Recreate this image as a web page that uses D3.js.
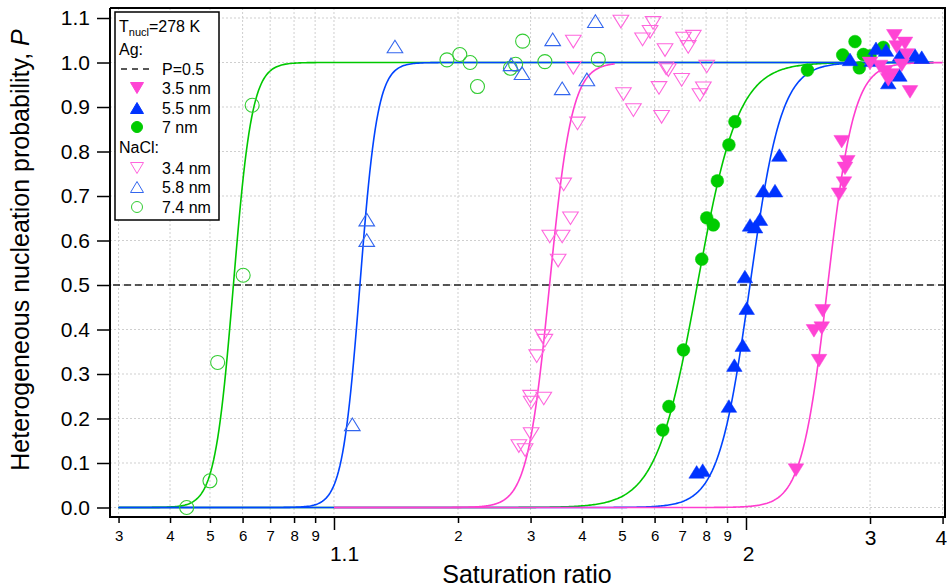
<!DOCTYPE html>
<html><head><meta charset="utf-8">
<script src="https://cdn.jsdelivr.net/npm/d3@7"></script>
<style>
body{margin:0;background:#fff}
svg{display:block}
text{font-family:"Liberation Sans",Arial,Helvetica,sans-serif;fill:#000}
</style>
</head><body>
<svg id="chart" width="947" height="587"></svg>
<script>
// ---------------- DATA ----------------
// NaCl seeds (open markers)
const nacl74S = [1.0439,1.0500,1.0522,1.0602,1.0633,1.188,1.202,1.214,1.223,1.268,1.276,1.287,1.325,1.438];
const nacl74P = [0.000,0.060,0.326,0.522,0.904,1.006,1.018,1.000,0.946,0.987,0.996,1.048,1.002,1.007];

const nacl58S = [1.1108,1.1201,1.1201,1.1406,1.269,1.286,1.3395,1.358,1.411,1.431];
const nacl58P = [0.187,0.647,0.601,1.036,0.996,0.976,1.052,0.942,0.962,1.093];

const nacl34S = [1.281,1.291,1.301,1.300,1.301,1.323,1.3105,1.321,1.325,1.350,1.334,1.358,1.375,1.361,1.390,1.381,1.381,1.497,1.504,1.533,1.561,1.585,1.595,1.615,1.624,1.636,1.640,1.648,1.698,1.705,1.724,1.745,1.773,1.788,1.803];
const nacl34P = [0.138,0.129,0.165,0.249,0.236,0.245,0.340,0.385,0.375,0.555,0.609,0.609,0.650,0.726,0.863,0.988,1.047,1.092,0.929,0.893,1.052,1.069,1.089,0.943,0.878,1.028,0.987,0.983,0.961,1.054,1.035,1.058,0.927,0.942,0.991];

// Ag seeds (filled markers)
const ag7S = [1.628,1.650,1.705,1.781,1.803,1.833,1.852,1.909,1.940,2.410,2.717,2.839,2.927,2.884,3.154,3.000];
const ag7P = [0.174,0.227,0.354,0.558,0.651,0.635,0.734,0.815,0.867,0.983,1.017,1.047,1.018,0.988,1.034,1.015];

const ag55S = [1.759,1.785,1.909,1.937,1.982,2.004,1.994,2.023,2.052,2.081,2.1015,2.176,2.205,2.788,3.019,3.068,3.187,3.365,3.572,3.670,3.215,3.356];
const ag55P = [0.080,0.084,0.228,0.320,0.365,0.448,0.519,0.635,0.631,0.648,0.712,0.712,0.792,1.007,1.005,1.032,1.028,1.017,1.017,1.012,0.955,0.972];

const ag35S = [2.322,2.504,2.462,2.527,2.535,2.682,2.729,2.739,2.762,2.707,3.501,3.291,3.432,3.321,3.000,3.115,3.175,3.258,3.215,3.388,3.455];
const ag35P = [0.084,0.330,0.397,0.403,0.442,0.704,0.729,0.762,0.777,0.822,0.934,1.060,1.043,1.035,0.998,0.991,0.979,0.972,0.961,0.994,1.017];

// Fitted sigmoid curves (logistic in log10(S-1)): order NaCl7.4, Ag7, NaCl5.8, Ag5.5, NaCl3.4, Ag3.5
const curveNames  = ["NaCl 7.4","Ag 7","NaCl 5.8","Ag 5.5","NaCl 3.4","Ag 3.5"];
const curveS50    = [1.0570, 1.7617, 1.1156, 2.0226, 1.3336, 2.579];
const curveWidth  = [0.0226, 0.0498, 0.0214, 0.0381, 0.0272, 0.0318];
const curveSmin   = [1.03, 1.03, 1.03, 1.03, 1.10, 1.10];
const curveSmax   = [3.85, 3.85, 3.85, 3.85, 1.48, 4.00];

// Axis ticks (saturation ratio values)
const yTicks = [0,0.1,0.2,0.3,0.4,0.5,0.6,0.7,0.8,0.9,1.0,1.1];
const xMinorS = [1.03,1.04,1.05,1.06,1.07,1.08,1.09,1.2,1.3,1.4,1.5,1.6,1.7,1.8,1.9];
const xMinorLabels = ["3","4","5","6","7","8","9","2","3","4","5","6","7","8","9"];
const xMajorS = [1.1, 2];
const xMajorLabels = ["1.1","2"];
const xMidS = [3, 4];
const xMidLabels = ["3","4"];

// ---------------- STYLE ----------------
const cGreenLine = "#00c800", cBlueLine = "#0044ff", cPinkLine = "#ff3dcf";
const cGreenFill = "#00cc00", cBlueFill = "#0033ff", cPinkFill = "#ff44d4";
const cGreenOpen = "#33cc33", cBlueOpen = "#3366ee", cPinkOpen = "#ff66dd";
const curveColors = [cGreenLine, cGreenLine, cBlueLine, cBlueLine, cPinkLine, cPinkLine];

const L = 110, R = 945, T = 8, B = 517;
const svg = d3.select("#chart");

const x = d3.scaleLog().domain([0.0286, 3.041]).range([L, R]);
const xs = s => x(s - 1);
const y = d3.scaleLinear().domain([-0.02135, 1.1225]).range([B, T]);

// gridlines
const grid = svg.append("g");
const allX = xMinorS.concat(xMajorS, xMidS);
grid.selectAll("line.vx").data(allX).join("line")
  .attr("x1", d => xs(d)).attr("x2", d => xs(d)).attr("y1", T).attr("y2", B)
  .attr("stroke", "#cfcfcf").attr("stroke-width", 1).attr("stroke-dasharray", "2,2");
grid.selectAll("line.hy").data(yTicks).join("line")
  .attr("x1", L).attr("x2", R).attr("y1", d => y(d)).attr("y2", d => y(d))
  .attr("stroke", "#cfcfcf").attr("stroke-width", 1).attr("stroke-dasharray", "2,2");

// P = 0.5 line
svg.append("line").attr("x1", L + 3).attr("x2", R).attr("y1", y(0.5)).attr("y2", y(0.5))
  .attr("stroke", "#222").attr("stroke-width", 1.6).attr("stroke-dasharray", "7,4");

// curves
const line = d3.line().x(d => xs(d[0])).y(d => y(d[1]));
curveS50.forEach((s50, i) => {
  const u0 = Math.log10(s50 - 1), w = curveWidth[i];
  const a = Math.log10(curveSmin[i] - 1), b = Math.log10(curveSmax[i] - 1);
  const pts = d3.range(0, 601).map(k => {
    const u = a + (b - a) * k / 600;
    return [1 + Math.pow(10, u), 1 / (1 + Math.exp(-(u - u0) / w))];
  });
  svg.append("path").attr("d", line(pts)).attr("fill", "none")
    .attr("stroke", curveColors[i]).attr("stroke-width", 1.6);
});

// markers
const TW = 7.8, TH = 12.6;
function triUp(cx, cy){ return `M${cx},${cy-TH/2}L${cx+TW},${cy+TH/2}L${cx-TW},${cy+TH/2}Z`; }
function triDown(cx, cy){ return `M${cx-TW},${cy-TH/2}L${cx+TW},${cy-TH/2}L${cx},${cy+TH/2}Z`; }
function drawMarker(g, type, cx, cy, filled, color){
  if (type === "circle") {
    g.append("circle").attr("cx", cx).attr("cy", cy).attr("r", filled ? 6.4 : 7)
      .attr("fill", filled ? color : "none").attr("stroke", color).attr("stroke-width", filled ? 0.5 : 1.1);
  } else {
    g.append("path").attr("d", type === "up" ? triUp(cx, cy) : triDown(cx, cy))
      .attr("fill", filled ? color : "none").attr("stroke", color).attr("stroke-width", filled ? 0.5 : 1.1);
  }
}
const series = [
  {S: nacl74S, P: nacl74P, type: "circle", filled: false, color: cGreenOpen},
  {S: nacl58S, P: nacl58P, type: "up", filled: false, color: cBlueOpen},
  {S: nacl34S, P: nacl34P, type: "down", filled: false, color: cPinkOpen},
  {S: ag7S, P: ag7P, type: "circle", filled: true, color: cGreenFill},
  {S: ag55S, P: ag55P, type: "up", filled: true, color: cBlueFill},
  {S: ag35S, P: ag35P, type: "down", filled: true, color: cPinkFill}
];
const mg = svg.append("g");
series.forEach(sr => sr.S.forEach((s, i) => drawMarker(mg, sr.type, xs(s), y(sr.P[i]), sr.filled, sr.color)));

// frame
svg.append("line").attr("x1", L).attr("x2", R + 1).attr("y1", T).attr("y2", T).attr("stroke", "#000").attr("stroke-width", 2);
svg.append("line").attr("x1", R).attr("x2", R).attr("y1", T).attr("y2", B).attr("stroke", "#000").attr("stroke-width", 2);

// y axis
const yAxis = svg.append("g").attr("transform", `translate(${L},0)`)
  .call(d3.axisLeft(y).tickValues(yTicks).tickFormat(d3.format(".1f")).tickSize(13).tickPadding(7));
yAxis.select(".domain").attr("stroke", "#000").attr("stroke-width", 2).attr("d", `M0,${T}V${B}`);
yAxis.selectAll(".tick line").attr("stroke", "#000").attr("stroke-width", 1.5);
yAxis.selectAll(".tick text").attr("font-size", 21).attr("font-family", "Liberation Sans, Arial, sans-serif");

// x axis (minor labels)
const xa1 = svg.append("g").attr("transform", `translate(0,${B})`)
  .call(d3.axisBottom(x).tickValues(xMinorS.map(s => s - 1)).tickFormat((d, i) => xMinorLabels[i]).tickSize(6).tickPadding(7));
xa1.select(".domain").attr("stroke", "#000").attr("stroke-width", 2).attr("d", `M${L-1},0H${R+1}`);
xa1.selectAll(".tick line").attr("stroke", "#000").attr("stroke-width", 1.5);
xa1.selectAll(".tick text").attr("font-size", 15).attr("font-family", "Liberation Sans, Arial, sans-serif");

// x axis (3, 4 : large labels, short ticks)
const xa2 = svg.append("g").attr("transform", `translate(0,${B})`)
  .call(d3.axisBottom(x).tickValues(xMidS.map(s => s - 1)).tickFormat((d, i) => xMidLabels[i]).tickSize(7).tickPadding(6));
xa2.select(".domain").remove();
xa2.selectAll(".tick line").attr("stroke", "#000").attr("stroke-width", 1.5);
xa2.selectAll(".tick text").attr("font-size", 21).attr("font-family", "Liberation Sans, Arial, sans-serif")
  .attr("text-anchor", (d, i) => i === xMidS.length - 1 ? "end" : "middle")
  .attr("dx", (d, i) => i === xMidS.length - 1 ? 4 : 0);

// x axis (1.1, 2 : large labels, long ticks, lower)
const xa3 = svg.append("g").attr("transform", `translate(0,${B})`)
  .call(d3.axisBottom(x).tickValues(xMajorS.map(s => s - 1)).tickFormat((d, i) => xMajorLabels[i]).tickSize(13).tickPadding(16));
xa3.select(".domain").remove();
xa3.selectAll(".tick line").attr("stroke", "#000").attr("stroke-width", 1.5);
xa3.selectAll(".tick text").attr("font-size", 21).attr("font-family", "Liberation Sans, Arial, sans-serif")
  .attr("dx", (d, i) => i === 0 ? 10 : 2);

// axis titles
svg.append("text").attr("x", 527).attr("y", 583).attr("text-anchor", "middle")
  .attr("font-size", 25).text("Saturation ratio");
const yt = svg.append("text").attr("transform", "translate(29,250) rotate(-90)")
  .attr("text-anchor", "middle").attr("font-size", 25);
yt.append("tspan").text("Heterogeneous nucleation probability, ");
yt.append("tspan").attr("font-style", "italic").text("P");

// legend
const lg = svg.append("g");
lg.append("rect").attr("x", 115).attr("y", 12).attr("width", 104).attr("height", 208)
  .attr("fill", "#fff").attr("stroke", "#000").attr("stroke-width", 1.5);
const t1 = lg.append("text").attr("x", 119).attr("y", 32).attr("font-size", 16);
t1.append("tspan").text("T");
t1.append("tspan").attr("font-size", 11).attr("dy", 4).text("nucl");
t1.append("tspan").attr("dy", -4).text("=278 K");
lg.append("text").attr("x", 119).attr("y", 55).attr("font-size", 16).text("Ag:");
lg.append("line").attr("x1", 121).attr("x2", 151).attr("y1", 69).attr("y2", 69)
  .attr("stroke", "#222").attr("stroke-width", 1.6).attr("stroke-dasharray", "6,5");
lg.append("text").attr("x", 162).attr("y", 75).attr("font-size", 16).text("P=0.5");
const legRows = [
  {lab: "3.5 nm", type: "down", filled: true, color: cPinkFill, y: 94},
  {lab: "5.5 nm", type: "up", filled: true, color: cBlueFill, y: 114},
  {lab: "7 nm", type: "circle", filled: true, color: cGreenFill, y: 133},
  {lab: "3.4 nm", type: "down", filled: false, color: cPinkOpen, y: 174},
  {lab: "5.8 nm", type: "up", filled: false, color: cBlueOpen, y: 193},
  {lab: "7.4 nm", type: "circle", filled: false, color: cGreenOpen, y: 213}
];
lg.append("text").attr("x", 119).attr("y", 153).attr("font-size", 16).text("NaCl:");
legRows.forEach(r => {
  const g = lg.append("g");
  if (r.type === "circle") {
    g.append("circle").attr("cx", 137).attr("cy", r.y - 6).attr("r", 5.5)
      .attr("fill", r.filled ? r.color : "none").attr("stroke", r.color).attr("stroke-width", 1);
  } else {
    const w = 6.5, h = 11, cx = 137, cy = r.y - 6;
    const d = r.type === "up" ? `M${cx},${cy-h/2}L${cx+w},${cy+h/2}L${cx-w},${cy+h/2}Z`
                              : `M${cx-w},${cy-h/2}L${cx+w},${cy-h/2}L${cx},${cy+h/2}Z`;
    g.append("path").attr("d", d).attr("fill", r.filled ? r.color : "none").attr("stroke", r.color).attr("stroke-width", 1);
  }
  lg.append("text").attr("x", 162).attr("y", r.y).attr("font-size", 16).text(r.lab);
});
</script>
</body></html>
